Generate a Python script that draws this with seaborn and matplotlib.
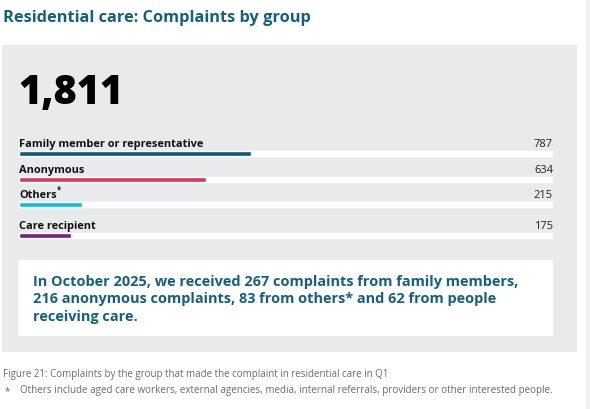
import matplotlib
matplotlib.use("Agg")
import matplotlib.pyplot as plt
from matplotlib.patches import Rectangle
import seaborn as sns
import pandas as pd

sns.set_style("white")
plt.rcParams['font.family'] = ['Open Sans', 'DejaVu Sans']

# Data
groups = ['Family member or representative', 'Anonymous', 'Others*', 'Care recipient']
counts = [787, 634, 215, 175]
total = 1811
bar_colors = ['#0d5a78', '#d8395a', '#0bbfdc', '#7a1f80']
title = 'Residential care: Complaints by group'
summary = ('In October 2025, we received 267 complaints from family members,\n'
           '216 anonymous complaints, 83 from others* and 62 from people\n'
           'receiving care.')
caption = 'Figure 21: Complaints by the group that made the complaint in residential care in Q1'
footnote = 'Others include aged care workers, external agencies, media, internal referrals, providers or other interested people.'

# layout
W, H = 590, 410
row_pos = [0, 1, 2, 3.2]   # vertical slots (last one has a bigger gap)
def fx(x): return x / W
def fy(y): return 1 - y / H

teal = '#14607e'

fig = plt.figure(figsize=(W / 100, H / 100), dpi=100)
fig.patch.set_facecolor('white')

# background panels
fig.add_artist(Rectangle((fx(586), 0), fx(4), 1, transform=fig.transFigure,
                         facecolor='#f3f3f3', edgecolor='none', zorder=0))
fig.add_artist(Rectangle((fx(2), fy(353)), fx(575), (353 - 46) / H, transform=fig.transFigure,
                         facecolor='#e9eaec', edgecolor='none', zorder=0))
fig.add_artist(Rectangle((fx(18), fy(337)), fx(535), (337 - 261) / H, transform=fig.transFigure,
                         facecolor='white', edgecolor='none', zorder=1))

fig.text(fx(3), fy(18), title, color=teal, fontsize=11.8, fontweight='bold', va='center', ha='left')
fig.text(fx(18), fy(93), f'{total:,}', color='black', fontsize=28.6, fontweight='heavy', va='center', ha='left')

# bars
ax = fig.add_axes([fx(19), fy(247), fx(534), 104 / H])
ax.set_facecolor('none')
df = pd.DataFrame({'group': groups, 'count': counts, 'row': row_pos, 'total': [total] * len(groups)})
sns.barplot(data=df, x='total', y='row', orient='h', native_scale=True, color='white',
            width=0.2, saturation=1, ax=ax)
sns.barplot(data=df, x='count', y='row', orient='h', native_scale=True, hue='group',
            palette=bar_colors, hue_order=groups, dodge=False, width=0.2, saturation=1,
            legend=False, ax=ax)
ax.set_xlim(0, total)
ax.set_ylim(3.6, -0.45)
ax.axis('off')

labels = []
for g, c, r in zip(groups, counts, row_pos):
    t = ax.annotate(g.replace('*', ''), (0, r - 0.1), xytext=(0, 1.5), textcoords='offset points',
                    fontsize=7.95, fontweight='bold', color='#111111', va='bottom', ha='left')
    labels.append((g, t, r))
    ax.annotate(f'{c}', (total, r - 0.1), xytext=(0, 1.5), textcoords='offset points',
                fontsize=8, color='#222222', va='bottom', ha='right')

# superscript asterisk right after "Others"
fig.canvas.draw()
for g, t, r in labels:
    if g.endswith('*'):
        bb = t.get_window_extent()
        fig.text(bb.x1 / W + 0.5 / W, (bb.y1 - 4) / H, '*', fontsize=5.5, fontweight='bold',
                 color='#111111', va='bottom', ha='left')

fig.text(fx(33), fy(299.5), summary, color=teal, fontsize=10.45, fontweight='bold',
         va='center', ha='left', linespacing=1.35)

fig.text(fx(3), fy(375), caption, color='#6b6b6b', fontsize=7.0, va='center', ha='left')
fig.text(fx(5), fy(392), '*', color='#6b6b6b', fontsize=7.0, va='center', ha='left')
fig.text(fx(20), fy(391), footnote, color='#6b6b6b', fontsize=7.15, va='center', ha='left')

fig.savefig('out.png', dpi=100)
